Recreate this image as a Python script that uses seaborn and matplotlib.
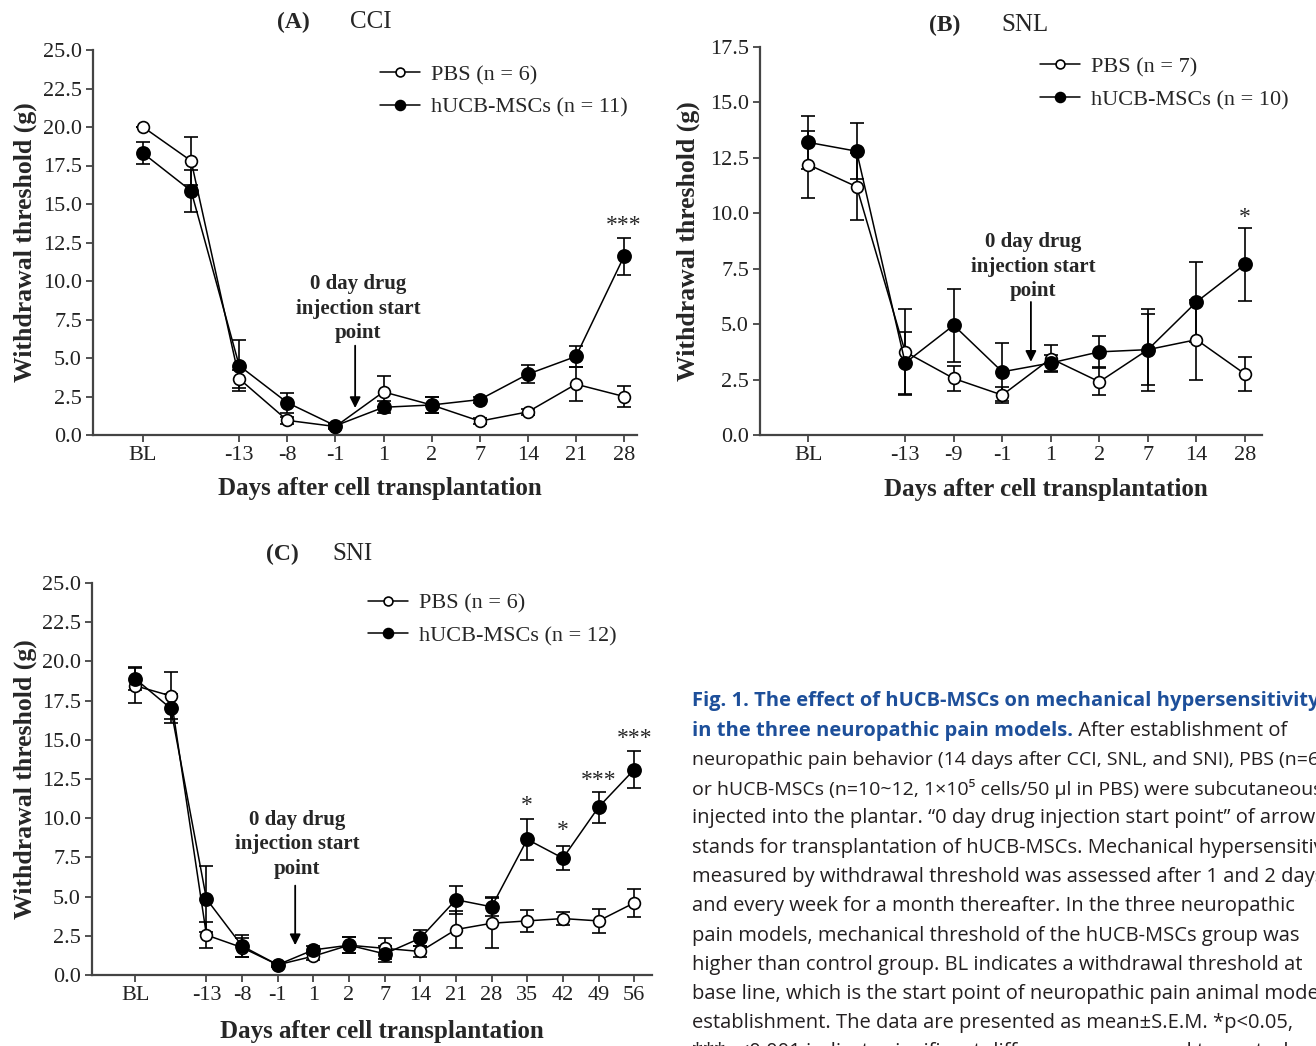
import numpy as np
import pandas as pd
import seaborn as sns
import matplotlib.pyplot as plt

# ---------------- data (mean and S.E.M.) ----------------
# (A) CCI
cci_labels = ['BL', '', '-13', '-8', '-1', '1', '2', '7', '14', '21', '28']
cci_pbs = [20.0, 17.8, 3.65, 0.95, 0.55, 2.8, 1.95, 0.9, 1.5, 3.3, 2.5]
cci_pbs_err = [0.0, 1.55, 0.6, 0.25, 0.15, 1.0, 0.5, 0.2, 0.2, 1.1, 0.7]
cci_msc = [18.3, 15.85, 4.5, 2.1, 0.6, 1.8, 1.95, 2.3, 3.95, 5.1, 11.6]
cci_msc_err = [0.7, 1.35, 1.65, 0.65, 0.15, 0.4, 0.5, 0.2, 0.6, 0.7, 1.2]

# (B) SNL
snl_labels = ['BL', '', '-13', '-9', '-1', '1', '2', '7', '14', '28']
snl_pbs = [12.2, 11.2, 3.75, 2.55, 1.8, 3.45, 2.4, 3.85, 4.3, 2.75]
snl_pbs_err = [1.5, 1.5, 1.95, 0.55, 0.35, 0.6, 0.6, 1.6, 1.8, 0.75]
snl_msc = [13.2, 12.8, 3.25, 4.95, 2.85, 3.25, 3.75, 3.85, 6.0, 7.7]
snl_msc_err = [1.2, 1.25, 1.4, 1.65, 1.3, 0.35, 0.7, 1.85, 1.8, 1.65]

# (C) SNI
sni_labels = ['BL', '', '-13', '-8', '-1', '1', '2', '7', '14', '21', '28',
              '35', '42', '49', '56']
sni_pbs = [18.45, 17.8, 2.55, 1.75, 0.65, 1.2, 1.9, 1.7, 1.5, 2.9, 3.3,
           3.45, 3.6, 3.45, 4.6]
sni_pbs_err = [1.1, 1.5, 0.8, 0.6, 0.1, 0.25, 0.5, 0.65, 0.35, 1.2, 1.6,
               0.7, 0.4, 0.75, 0.9]
sni_msc = [18.9, 17.0, 4.85, 1.85, 0.65, 1.6, 1.9, 1.35, 2.35, 4.8, 4.35,
           8.65, 7.45, 10.7, 13.1]
sni_msc_err = [0.75, 0.9, 2.1, 0.7, 0.15, 0.25, 0.5, 0.5, 0.5, 0.9, 0.6,
               1.3, 0.75, 1.0, 1.2]

cci_stars = {10: '***'}
snl_stars = {9: '*'}
sni_stars = {11: '*', 12: '*', 13: '***', 14: '***'}

# ---------------- style ----------------
sns.set_style('ticks')
plt.rcParams['font.family'] = ['Liberation Serif', 'DejaVu Serif']
plt.rcParams['axes.edgecolor'] = '#444444'
plt.rcParams['xtick.color'] = '#444444'
plt.rcParams['ytick.color'] = '#444444'
plt.rcParams['xtick.labelcolor'] = '#222222'
plt.rcParams['ytick.labelcolor'] = '#222222'

W, H = 1316, 1046
fig = plt.figure(figsize=(W / 100, H / 100), dpi=100)
fig.patch.set_facecolor('white')


def px_axes(left, right, top, bottom):
    return fig.add_axes([left / W, 1 - bottom / H, (right - left) / W, (bottom - top) / H])


def draw_panel(ax, labels, pbs, pbs_err, msc, msc_err, n_pbs, n_msc, ymax,
               xlim, stars, star_y, arrow_x, arrow_y, note_y, xlab_pos, leg_pos):
    x = np.arange(len(labels))
    df = pd.DataFrame({'pos': np.concatenate([x, x]),
                       'value': pbs + msc,
                       'err': pbs_err + msc_err,
                       'group': ['PBS'] * len(x) + ['hUCB'] * len(x)})
    for grp, face, ms, lab in [('PBS', 'white', 8.5, f'PBS (n = {n_pbs})'),
                               ('hUCB', 'black', 9.5, f'hUCB-MSCs (n = {n_msc})')]:
        d = df[df['group'] == grp]
        ax.errorbar(d['pos'], d['value'], yerr=d['err'], fmt='none', ecolor='black',
                    elinewidth=1.2, capsize=5, capthick=1.2, zorder=2)
        sns.lineplot(data=d, x='pos', y='value', ax=ax, color='black', linewidth=1.1,
                     marker='o', markersize=ms, markerfacecolor=face,
                     markeredgecolor='black', markeredgewidth=1.2, label=lab, zorder=3)

    ax.set_ylim(0, ymax)
    ax.set_xlim(*xlim)
    ax.set_yticks(np.arange(0, ymax + 0.01, 2.5))
    ax.set_yticklabels([f'{v:.1f}' for v in np.arange(0, ymax + 0.01, 2.5)])
    tick_pos = [i for i, l in enumerate(labels) if l]
    ax.set_xticks(tick_pos)
    ax.set_xticklabels([labels[i] for i in tick_pos])
    ax.tick_params(axis='both', labelsize=16, length=5, width=1.3, pad=3)
    for s in ['left', 'bottom']:
        ax.spines[s].set_linewidth(1.6)
    sns.despine(ax=ax)

    ax.set_xlabel('Days after cell transplantation', fontsize=18, fontweight='bold')
    ax.set_ylabel('Withdrawal threshold (g)', fontsize=18.5, fontweight='bold')
    ax.xaxis.set_label_coords(*xlab_pos[:2])
    ax.yaxis.set_label_coords(*xlab_pos[2:])

    for i, s in stars.items():
        ax.text(i, star_y[i], s, ha='center', va='center', fontsize=17)

    ax.annotate('', xy=(arrow_x, arrow_y[1]), xytext=(arrow_x, arrow_y[0]),
                arrowprops=dict(arrowstyle='-|>', color='black', lw=1.3,
                                mutation_scale=16, shrinkA=0, shrinkB=0))
    ax.text(note_y[0], note_y[1], '0 day drug\ninjection start\npoint', ha='center',
            va='center', fontsize=15, fontweight='bold', linespacing=1.3)

    ax.legend(loc='upper left', bbox_to_anchor=leg_pos, frameon=False, fontsize=16,
              handlelength=1.8, handletextpad=0.5, labelspacing=0.55,
              borderpad=0, borderaxespad=0, markerscale=0.75)


# panel A
axA = px_axes(93, 637, 50, 435)
draw_panel(axA, cci_labels, cci_pbs, cci_pbs_err, cci_msc, cci_msc_err, 6, 11, 25.0,
           (-1.04, 10.27), cci_stars, {10: 13.6}, 4.41, (5.8, 1.75), (4.47, 8.2),
           (0.528, -0.11, -0.103, 0.5), (0.528, 0.962))

# panel B
axB = px_axes(760, 1262, 47, 435)
draw_panel(axB, snl_labels, snl_pbs, snl_pbs_err, snl_msc, snl_msc_err, 7, 10, 17.5,
           (-0.99, 9.35), snl_stars, {9: 9.8}, 4.59, (6.0, 3.3), (4.63, 7.59),
           (0.57, -0.11, -0.12, 0.5), (0.558, 0.975))

# panel C
axC = px_axes(92, 652, 583, 975)
draw_panel(axC, sni_labels, sni_pbs, sni_pbs_err, sni_msc, sni_msc_err, 6, 12, 25.0,
           (-1.21, 14.5), sni_stars, {11: 10.8, 12: 9.2, 13: 12.4, 14: 15.1},
           4.49, (5.7, 1.9), (4.55, 8.33),
           (0.518, -0.115, -0.098, 0.5), (0.493, 0.975))

# panel titles
for (xl, xn, y, tag, name) in [(293, 371, 22, '(A)', 'CCI'),
                               (945, 1025, 25, '(B)', 'SNL'),
                               (282, 352, 554, '(C)', 'SNI')]:
    fig.text(xl / W, 1 - y / H, tag, ha='center', va='center', fontsize=17, fontweight='bold')
    fig.text(xn / W, 1 - y / H, name, ha='center', va='center', fontsize=18)

# ---------------- caption ----------------
cap_font = ['Open Sans', 'DejaVu Sans']
cap_size = 14.5
blue = '#1d4f9a'
body = '#231f20'
cx = 692 / W
line_y = [701, 731, 760, 789, 818, 848, 877, 906, 936, 965, 994, 1023, 1052]
fig.text(cx, 1 - line_y[0] / H, 'Fig. 1. The effect of hUCB-MSCs on mechanical hypersensitivity',
         ha='left', va='center', fontsize=cap_size, fontweight='bold', color=blue, family=cap_font)
t2 = fig.text(cx, 1 - line_y[1] / H, 'in the three neuropathic pain models.',
              ha='left', va='center', fontsize=cap_size, fontweight='bold', color=blue,
              family=cap_font)
fig.add_artist(plt.Annotation(' After establishment of', xy=(1, 0.5), xycoords=t2,
                              ha='left', va='center', fontsize=cap_size, color=body,
                              family=cap_font))
body_lines = [
    'neuropathic pain behavior (14 days after CCI, SNL, and SNI), PBS (n=6~7)',
    'or hUCB-MSCs (n=10~12, 1×10⁵ cells/50 μl in PBS) were subcutaneously',
    'injected into the plantar. “0 day drug injection start point” of arrow',
    'stands for transplantation of hUCB-MSCs. Mechanical hypersensitivity',
    'measured by withdrawal threshold was assessed after 1 and 2 days,',
    'and every week for a month thereafter. In the three neuropathic',
    'pain models, mechanical threshold of the hUCB-MSCs group was',
    'higher than control group. BL indicates a withdrawal threshold at',
    'base line, which is the start point of neuropathic pain animal model',
    'establishment. The data are presented as mean±S.E.M. *p<0.05,',
    '***p<0.001 indicate significant differences compared to control group.',
]
for i, (yy, txt) in enumerate(zip(line_y[2:], body_lines)):
    # the two condensed lines of the justified original
    size = cap_size - 0.5 if i in (0, 1) else cap_size
    fig.text(cx, 1 - yy / H, txt, ha='left', va='center', fontsize=size,
             color=body, family=cap_font)

fig.savefig('out.png', dpi=100, facecolor='white')
